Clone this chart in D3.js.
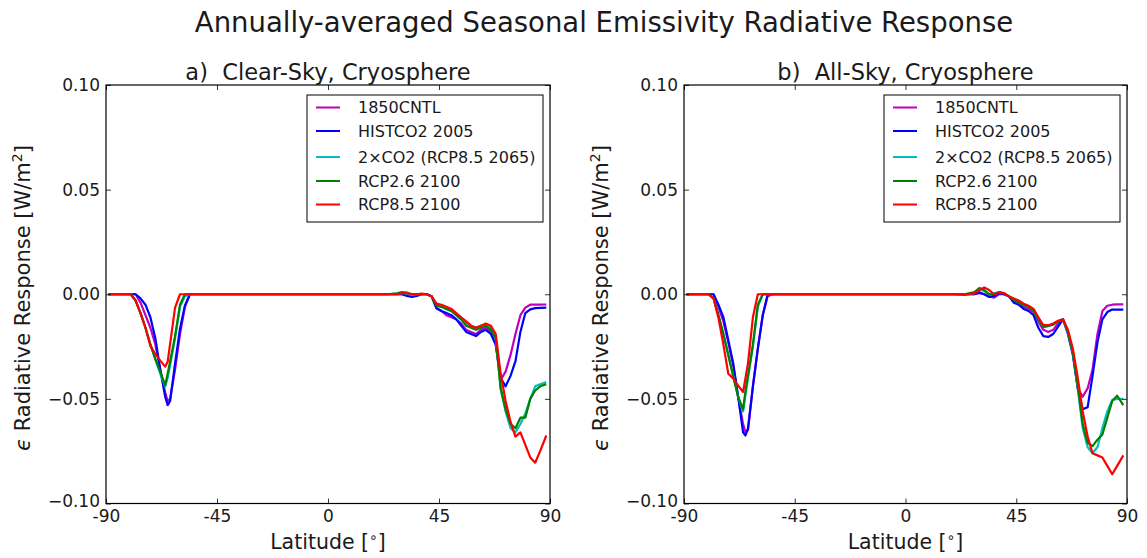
<!DOCTYPE html>
<html>
<head>
<meta charset="utf-8">
<script src="https://cdn.jsdelivr.net/npm/d3@7"></script>
<style>
html,body{margin:0;padding:0;background:#fff;}
svg{display:block;}
text{font-family:"DejaVu Sans",sans-serif;fill:#1a1a1a;}
</style>
</head>
<body>
<svg id="chart" width="1147" height="558"></svg>
<script>
// ---------- data ----------
const seriesNames = ["1850CNTL", "HISTCO2 2005", "2\u00D7CO2 (RCP8.5 2065)", "RCP2.6 2100", "RCP8.5 2100"];
const seriesColors = ["#bf00bf", "#0000ff", "#00bfbf", "#008000", "#ff0000"];
const panelTitles = ["a)  Clear-Sky, Cryosphere", "b)  All-Sky, Cryosphere"];
const xTicks = [-90, -45, 0, 45, 90];
const xTickLabels = ["-90", "-45", "0", "45", "90"];
const yTicks = [0.10, 0.05, 0.00, -0.05, -0.10];
const yTickLabels = ["0.10", "0.05", "0.00", "\u22120.05", "\u22120.10"];

const latitudes = [-89, -80, -78, -76, -74, -72, -70, -68, -66, -65, -64, -62, -60, -58, -56, -54,
  0, 20, 24, 28, 30, 32, 34, 36, 38, 40, 42, 44, 46, 48, 50, 52, 54, 56, 58, 60, 62, 64, 66,
  68, 70, 72, 74, 76, 78, 80, 82, 84, 86, 88.5];

// Panel a: Clear-Sky
const clear1850 = [0, 0, 0, -0.004, -0.010, -0.016, -0.024, -0.036, -0.047, -0.051, -0.050, -0.036, -0.019, -0.006, 0, 0,
  0, 0, 0, 0, 0, -0.0005, -0.0005, -0.0005, 0, 0, -0.001, -0.0065, -0.008, -0.010, -0.011, -0.012, -0.014, -0.017, -0.018, -0.019, -0.017, -0.016, -0.018,
  -0.024, -0.041, -0.037, -0.029, -0.019, -0.010, -0.0064, -0.005, -0.005, -0.005, -0.0049];
const clearHist = [0, 0, 0, -0.002, -0.005, -0.011, -0.021, -0.036, -0.049, -0.053, -0.051, -0.033, -0.0165, -0.0054, 0, 0,
  0, 0, 0, 0, 0, -0.0008, -0.0013, -0.0008, 0, 0, -0.001, -0.0068, -0.008, -0.009, -0.010, -0.012, -0.015, -0.018, -0.019, -0.020, -0.018, -0.017, -0.019,
  -0.024, -0.040, -0.044, -0.039, -0.032, -0.018, -0.009, -0.0072, -0.0066, -0.0065, -0.0064];
const clear2x = [0, 0, -0.003, -0.009, -0.016, -0.024, -0.031, -0.038, -0.044, -0.040, -0.034, -0.021, -0.006, -0.001, 0, 0,
  0, 0, 0, 0.0003, 0.0006, 0.0003, -0.0003, 0, 0, 0, -0.001, -0.005, -0.006, -0.007, -0.008, -0.010, -0.012, -0.014, -0.015, -0.016, -0.015, -0.015, -0.016,
  -0.021, -0.045, -0.056, -0.064, -0.066, -0.062, -0.057, -0.050, -0.044, -0.043, -0.042];
const clear26 = [0, 0, -0.003, -0.009, -0.016, -0.024, -0.031, -0.037, -0.0435, -0.038, -0.032, -0.020, -0.005, 0, 0, 0,
  0, 0, 0, 0.0004, 0.001, 0.0008, 0, 0, 0, 0, -0.001, -0.0055, -0.006, -0.007, -0.008, -0.010, -0.012, -0.015, -0.016, -0.017, -0.016, -0.015, -0.017,
  -0.021, -0.045, -0.055, -0.062, -0.064, -0.059, -0.059, -0.050, -0.046, -0.044, -0.043];
const clear85 = [0, 0, -0.003, -0.009, -0.016, -0.0247, -0.0286, -0.0317, -0.0346, -0.0323, -0.0236, -0.0064, 0, 0, 0, 0,
  0, 0, 0, 0, 0.0005, 0.0005, 0, 0, 0.0003, 0, -0.001, -0.0045, -0.005, -0.006, -0.007, -0.009, -0.011, -0.013, -0.015, -0.016, -0.015, -0.014, -0.015,
  -0.019, -0.038, -0.051, -0.061, -0.068, -0.066, -0.072, -0.078, -0.0805, -0.075, -0.0675];

// Panel b: All-Sky
const all1850 = [0, 0, 0, -0.006, -0.013, -0.023, -0.034, -0.049, -0.062, -0.066, -0.065, -0.044, -0.026, -0.010, -0.001, 0,
  0, 0, 0, 0, 0.0005, 0, -0.001, -0.0016, 0, 0, -0.001, -0.003, -0.0045, -0.006, -0.007, -0.0085, -0.013, -0.017, -0.018, -0.017, -0.014, -0.012, -0.018,
  -0.028, -0.045, -0.049, -0.045, -0.036, -0.019, -0.008, -0.0055, -0.005, -0.0048, -0.0048];
const allHist = [0, 0, 0, -0.005, -0.011, -0.022, -0.033, -0.049, -0.066, -0.0675, -0.064, -0.044, -0.026, -0.010, 0, 0,
  0, 0, 0, 0, 0.001, 0, -0.0013, -0.0008, 0.0005, 0, -0.001, -0.004, -0.005, -0.007, -0.008, -0.010, -0.016, -0.020, -0.0204, -0.019, -0.0155, -0.012, -0.019,
  -0.029, -0.045, -0.055, -0.054, -0.039, -0.023, -0.012, -0.0085, -0.0073, -0.0073, -0.0073];
const all2x = [0, 0, -0.002, -0.010, -0.019, -0.029, -0.039, -0.049, -0.056, -0.048, -0.040, -0.025, -0.006, 0, 0, 0,
  0, 0, 0, 0.0005, 0.0025, 0.0015, 0, 0.0005, 0.001, 0.0005, -0.001, -0.0025, -0.004, -0.005, -0.006, -0.008, -0.012, -0.0155, -0.015, -0.0145, -0.013, -0.012, -0.018,
  -0.028, -0.045, -0.064, -0.073, -0.076, -0.073, -0.064, -0.056, -0.0505, -0.050, -0.050];
const all26 = [0, 0, -0.002, -0.010, -0.019, -0.029, -0.0393, -0.049, -0.055, -0.046, -0.039, -0.024, -0.005, 0, 0, 0,
  0, 0, 0, 0.001, 0.003, 0.002, 0, 0, 0.001, 0.0005, -0.001, -0.0025, -0.004, -0.005, -0.006, -0.008, -0.012, -0.0156, -0.0152, -0.0145, -0.013, -0.012, -0.018,
  -0.028, -0.044, -0.062, -0.071, -0.0726, -0.0695, -0.067, -0.059, -0.051, -0.0485, -0.053];
const all85 = [0, 0, -0.002, -0.0113, -0.024, -0.038, -0.0403, -0.0437, -0.0467, -0.040, -0.033, -0.011, 0, 0, 0, 0,
  0, 0, -0.0003, 0.0005, 0.002, 0.0032, 0.002, 0, 0.0008, 0.0005, -0.001, -0.002, -0.003, -0.0045, -0.0055, -0.007, -0.011, -0.0148, -0.0148, -0.014, -0.0127, -0.012, -0.017,
  -0.026, -0.040, -0.056, -0.068, -0.076, -0.077, -0.078, -0.082, -0.086, -0.082, -0.077];

const panelData = [
  [clear1850, clearHist, clear2x, clear26, clear85],
  [all1850, allHist, all2x, all26, all85]
];

// ---------- layout ----------
const svg = d3.select("#chart");
const panels = [
  {x0: 106, x1: 550},
  {x0: 684, x1: 1127}
];
const yTop = 85, yBot = 503.5;
const tickFont = 17;

svg.append("text")
  .attr("x", 604).attr("y", 32)
  .attr("text-anchor", "middle")
  .attr("font-size", 27.5)
  .text("Annually-averaged Seasonal Emissivity Radiative Response");

const y = d3.scaleLinear().domain([-0.1, 0.1]).range([yBot, yTop]);

panels.forEach((p, pi) => {
  const x = d3.scaleLinear().domain([-90, 90]).range([p.x0, p.x1]);
  const g = svg.append("g");

  const clipId = "clip" + pi;
  svg.append("clipPath").attr("id", clipId)
    .append("rect").attr("x", p.x0).attr("y", yTop).attr("width", p.x1 - p.x0).attr("height", yBot - yTop);

  // lines
  const line = d3.line().x((d, i) => x(latitudes[i])).y(d => y(d));
  const lg = g.append("g").attr("clip-path", `url(#${clipId})`);
  panelData[pi].forEach((vals, si) => {
    lg.append("path")
      .datum(vals)
      .attr("d", line)
      .attr("fill", "none")
      .attr("stroke", seriesColors[si])
      .attr("stroke-width", 2.2)
      .attr("stroke-linejoin", "round");
  });

  // axes
  const fmtX = d => xTickLabels[xTicks.indexOf(d)];
  const fmtY = d => yTickLabels[yTicks.findIndex(v => Math.abs(v - d) < 1e-9)];

  const ax = g.append("g").attr("transform", `translate(0,${yBot})`)
    .call(d3.axisBottom(x).tickValues(xTicks).tickFormat(fmtX).tickSizeInner(-5).tickSizeOuter(0).tickPadding(6));
  const axT = g.append("g").attr("transform", `translate(0,${yTop})`)
    .call(d3.axisTop(x).tickValues(xTicks).tickFormat("").tickSizeInner(-5).tickSizeOuter(0));
  const ay = g.append("g").attr("transform", `translate(${p.x0},0)`)
    .call(d3.axisLeft(y).tickValues(yTicks).tickFormat(fmtY).tickSizeInner(-5).tickSizeOuter(0).tickPadding(6));
  const ayR = g.append("g").attr("transform", `translate(${p.x1},0)`)
    .call(d3.axisRight(y).tickValues(yTicks).tickFormat("").tickSizeInner(-5).tickSizeOuter(0));
  [ax, axT, ay, ayR].forEach(a => {
    a.select(".domain").remove();
    a.selectAll("line").attr("stroke", "#000").attr("stroke-width", 0.8);
    a.selectAll("text").attr("font-size", tickFont).attr("font-family", "DejaVu Sans, sans-serif").attr("fill", "#1a1a1a");
  });
  // nudge bottom-left labels slightly so they don't collide
  ay.selectAll(".tick").filter(d => Math.abs(d + 0.1) < 1e-9).select("text").attr("dy", "0.2em");

  // frame
  g.append("rect")
    .attr("x", p.x0).attr("y", yTop)
    .attr("width", p.x1 - p.x0).attr("height", yBot - yTop)
    .attr("fill", "none").attr("stroke", "#000").attr("stroke-width", 1.2);

  const cx = (p.x0 + p.x1) / 2;
  // panel title
  g.append("text").attr("x", cx).attr("y", 80).attr("text-anchor", "middle")
    .attr("font-size", 22.5).attr("xml:space", "preserve").style("white-space", "pre")
    .text(panelTitles[pi]);

  // x label
  const xl = g.append("text").attr("x", cx).attr("y", 549).attr("text-anchor", "middle").attr("font-size", 20.5);
  xl.append("tspan").text("Latitude [");
  xl.append("tspan").attr("dy", -7).attr("font-size", 14).text("\u2218");
  xl.append("tspan").attr("dy", 7).text("]");

  // y label
  const ylx = p.x0 - 76;
  const yl = g.append("text").attr("transform", `translate(${ylx},298) rotate(-90)`)
    .attr("text-anchor", "middle").attr("font-size", 21);
  yl.append("tspan").attr("font-style", "italic").text("\u03F5");
  yl.append("tspan").text(" Radiative Response [W/m");
  yl.append("tspan").attr("dy", -8).attr("font-size", 14).text("2");
  yl.append("tspan").attr("dy", 8).text("]");

  // legend
  const lx = p.x1 - 243, ly = 95;
  const leg = g.append("g");
  leg.append("rect").attr("x", lx).attr("y", ly).attr("width", 236).attr("height", 127)
    .attr("fill", "#fff").attr("stroke", "#000").attr("stroke-width", 1);
  const rowY = [12.5, 36, 62, 86, 109.5];
  seriesNames.forEach((n, i) => {
    leg.append("line").attr("x1", lx + 9).attr("x2", lx + 33)
      .attr("y1", ly + rowY[i]).attr("y2", ly + rowY[i])
      .attr("stroke", seriesColors[i]).attr("stroke-width", 2);
    leg.append("text").attr("x", lx + 51).attr("y", ly + rowY[i]).attr("dy", "0.36em")
      .attr("font-size", 16).text(n);
  });
});
</script>
</body>
</html>
